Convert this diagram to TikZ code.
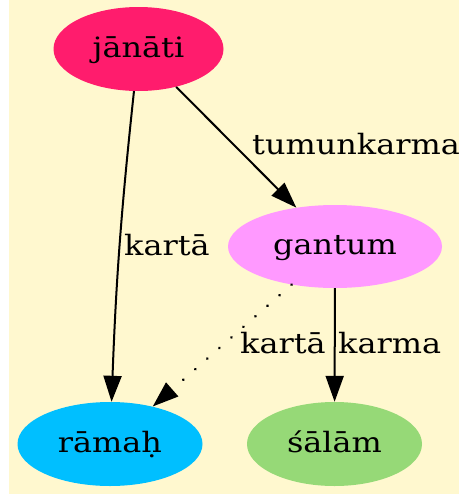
\documentclass[tikz,border=0pt]{standalone}
\usepackage{fontspec}
\setmainfont[FakeStretch=1.14]{DejaVu Serif}
\usetikzlibrary{shapes.geometric,arrows.meta}
\definecolor{paper}{HTML}{FFF8CF}
\definecolor{cverb}{HTML}{FF1C6D}
\definecolor{cinf}{HTML}{FF99FF}
\definecolor{cagent}{HTML}{00BFFF}
\definecolor{cobj}{HTML}{96D977}
\begin{document}
\begin{tikzpicture}[x=1pt,y=-1pt,
  word/.style={ellipse,inner sep=0pt,text height=19pt,text depth=3pt,
    font=\fontsize{28}{32}\selectfont,minimum height=84pt},
  rel/.style={inner sep=0pt,anchor=base west,font=\fontsize{28}{32}\selectfont},
  link/.style={line width=2pt,-{Triangle[length=26pt,width=18pt]}},
  dotlink/.style={link,line cap=round,dash pattern=on 0.01pt off 16pt,line width=3pt}]
  \useasboundingbox (0,0) rectangle (459,498);
  \fill[white] (0,0) rectangle (459,498);
  \fill[paper] (9,0) rectangle (459,494);

  \node[word,fill=cverb,minimum width=170pt] (janati) at (138.5,49) {jānāti};
  \node[word,fill=cinf,minimum width=214pt,minimum height=83pt] (gantum) at (335,246.5) {gantum};
  \node[word,fill=cagent,minimum width=185pt] (ramah) at (110,444) {rāmaḥ};
  \node[word,fill=cobj,minimum width=175pt] (salam) at (334.5,444) {śālām};

  \draw[link] (janati) to[bend right=2] (ramah);
  \draw[link] (janati) -- (gantum);
  \draw[dotlink] (gantum) -- (ramah);
  \draw[link] (gantum) -- (salam);

  \node[rel] (l1) at (124,255) {kartā};
  \node[rel] (l2) at (252,154) {tumunkarma};
  \node[rel] (l3) at (240,353) {kartā};
  \node[rel] (l4) at (338,353) {karma};
\end{tikzpicture}
\end{document}
